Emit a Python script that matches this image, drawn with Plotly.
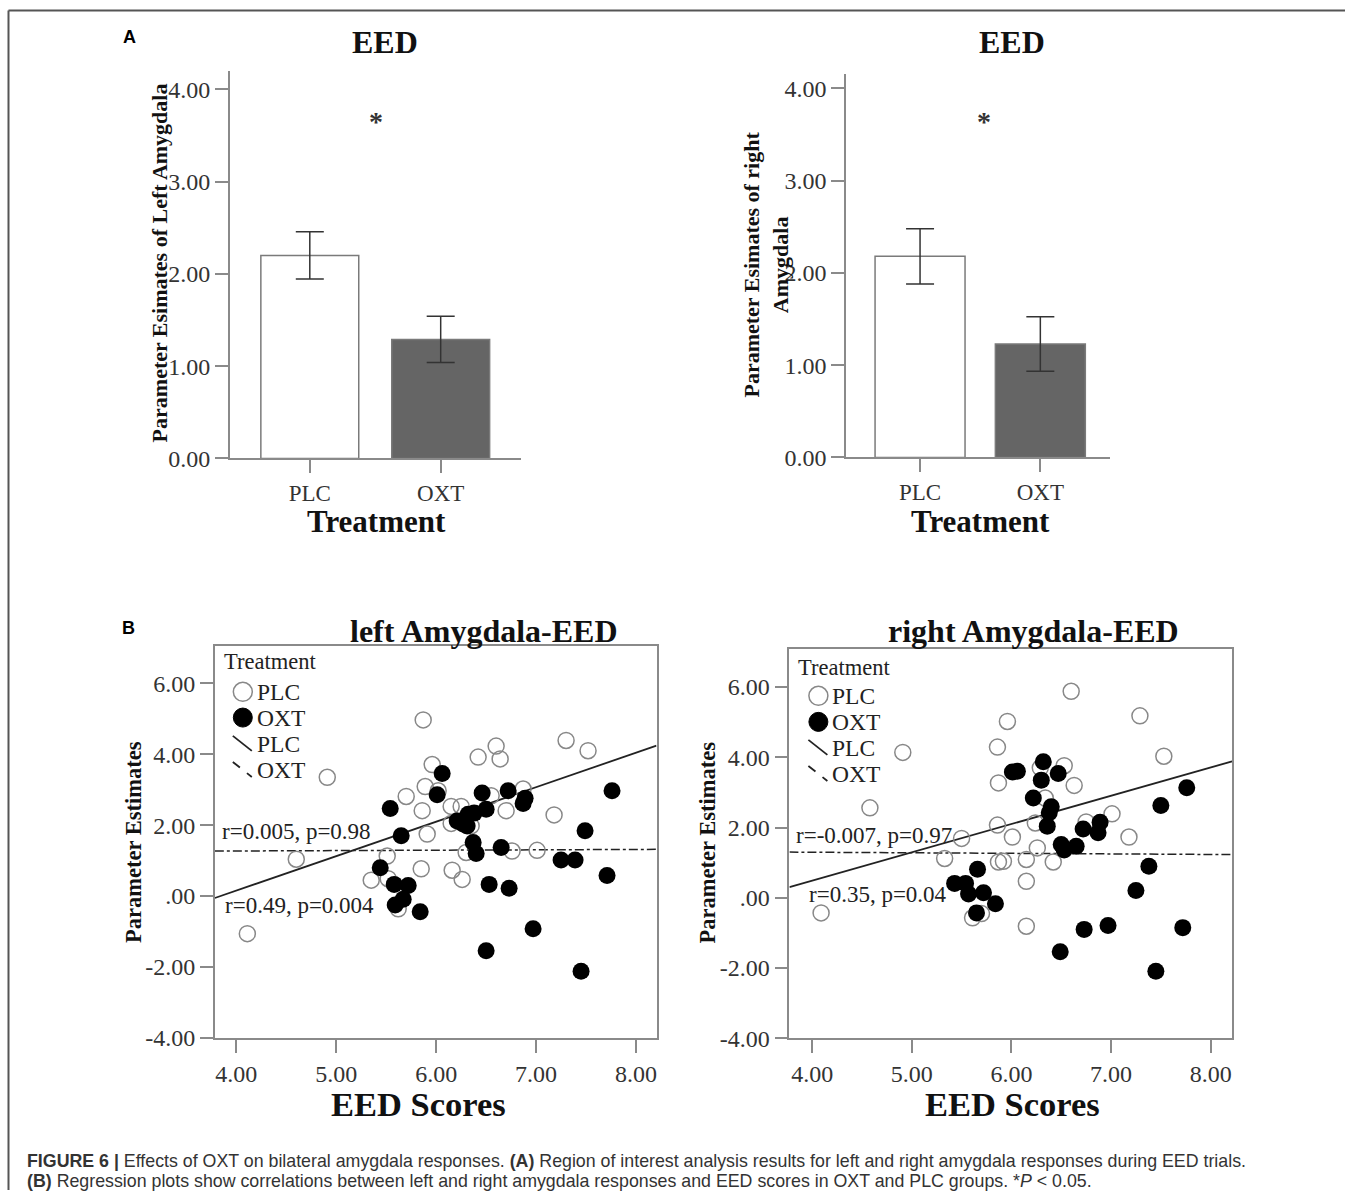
import plotly.graph_objects as go

# Figure fills the 1346x1203 page (body margin removed). The photographed page comes back
# slightly compressed vertically (~0.988), so reference y positions are divided by S.
W, H = 1346, 1203
S = 0.988
def fx(p): return p / W
def fy(p): return 1 - (p / S) / H

SERIF = "Liberation Serif, Times New Roman, serif"
SANS = "Liberation Sans, Arial, sans-serif"

# ---------------- data ----------------
groups = ["PLC", "OXT"]
left_mean = [2.20, 1.29]
left_sem = [0.255, 0.25]
right_mean = [2.18, 1.23]
right_sem = [0.30, 0.295]
bar_tickvals = [0, 1, 2, 3, 4]
bar_ticktext = ["0.00", "1.00", "2.00", "3.00", "4.00"]

sc_xtickvals = [4, 5, 6, 7, 8]
sc_xticktext = ["4.00", "5.00", "6.00", "7.00", "8.00"]
sc_ytickvals = [-4, -2, 0, 2, 4, 6]
sc_yticktext = ["-4.00", "-2.00", ".00", "2.00", "4.00", "6.00"]

left_plc_x = [5.87, 4.91, 4.11, 4.60, 7.30, 7.52, 6.60, 6.64, 6.42, 5.96, 5.89, 6.02, 5.70, 5.86, 6.15, 6.25, 6.15,
              6.35, 6.55, 6.87, 6.70, 7.18, 5.91, 5.51, 5.35, 5.52, 5.85, 6.16, 6.26, 6.30, 6.76, 7.01, 5.62]
left_plc_y = [4.97, 3.35, -1.06, 1.04, 4.39, 4.10, 4.23, 3.87, 3.92, 3.71, 3.09, 2.97, 2.81, 2.41, 2.53, 2.53, 2.05,
              1.98, 2.83, 3.02, 2.41, 2.29, 1.75, 1.13, 0.45, 0.49, 0.77, 0.73, 0.47, 1.23, 1.27, 1.29, -0.36]
left_oxt_x = [6.06, 5.54, 6.01, 6.46, 6.72, 6.87, 6.89, 6.50, 7.76, 5.65, 6.21, 6.32, 6.38, 6.27, 6.31, 7.49, 6.37,
              6.40, 6.65, 5.44, 7.25, 7.39, 7.71, 5.58, 5.72, 6.53, 6.73, 5.67, 5.59, 5.84, 6.97, 6.50, 7.45]
left_oxt_y = [3.46, 2.47, 2.86, 2.91, 2.97, 2.61, 2.76, 2.45, 2.97, 1.70, 2.12, 2.31, 2.34, 2.03, 1.98, 1.84, 1.51,
              1.20, 1.37, 0.80, 1.02, 1.02, 0.58, 0.33, 0.30, 0.33, 0.22, -0.09, -0.25, -0.44, -0.92, -1.54, -2.12]

right_plc_x = [6.60, 7.29, 5.96, 5.86, 4.91, 7.53, 6.53, 6.29, 5.87, 6.63, 4.58, 6.34, 6.24, 5.86, 7.01, 6.75, 7.18,
               5.50, 6.01, 6.26, 5.33, 5.87, 5.92, 6.15, 6.42, 6.15, 4.09, 5.61, 5.70, 6.15]
right_plc_y = [5.88, 5.18, 5.02, 4.29, 4.14, 4.03, 3.76, 3.70, 3.27, 3.20, 2.56, 2.84, 2.13, 2.07, 2.39, 2.16, 1.73,
               1.69, 1.73, 1.42, 1.12, 1.02, 1.04, 1.09, 1.02, 0.47, -0.43, -0.57, -0.45, -0.81]
right_oxt_x = [6.32, 6.01, 6.06, 6.47, 6.30, 6.22, 6.40, 6.38, 6.36, 7.76, 7.50, 6.72, 6.89, 6.87, 6.50, 6.53, 6.65,
               7.38, 5.66, 5.43, 5.54, 5.57, 5.72, 5.84, 5.65, 7.25, 6.73, 6.97, 7.72, 6.49, 7.45]
right_oxt_y = [3.87, 3.58, 3.60, 3.54, 3.35, 2.84, 2.59, 2.42, 2.04, 3.13, 2.63, 1.96, 2.15, 1.85, 1.52, 1.36, 1.47,
               0.90, 0.81, 0.41, 0.41, 0.11, 0.14, -0.17, -0.43, 0.21, -0.90, -0.79, -0.85, -1.54, -2.09]

# regression fits: [intercept, slope]
left_fit_plc = [-3.735, 0.9724]
left_fit_oxt = [1.228, 0.011]
right_fit_plc = [-2.737, 0.806]
right_fit_oxt = [1.36, -0.0158]
left_stats = ["r=0.005, p=0.98", "r=0.49, p=0.004"]
right_stats = ["r=-0.007, p=0.97", "r=0.35, p=0.04"]

# ---------------- figure ----------------
fig = go.Figure()

bar_line = "#7a7a7a"
for mean, sem, xa, ya in [(left_mean, left_sem, "x", "y"), (right_mean, right_sem, "x2", "y2")]:
    fig.add_trace(go.Bar(
        x=groups, y=mean, xaxis=xa, yaxis=ya, width=0.748,
        marker=dict(color=["#ffffff", "#656565"], line=dict(color=bar_line, width=1.5)),
        error_y=dict(type="data", array=sem, color="#333333", thickness=1.5, width=14),
        showlegend=False, hoverinfo="skip"))

xr3 = [3.785, 8.205]
xr4 = [3.772, 8.215]
for (plc_x, plc_y, oxt_x, oxt_y, fp, fo, xr, xa, ya) in [
        (left_plc_x, left_plc_y, left_oxt_x, left_oxt_y, left_fit_plc, left_fit_oxt, xr3, "x3", "y3"),
        (right_plc_x, right_plc_y, right_oxt_x, right_oxt_y, right_fit_plc, right_fit_oxt, xr4, "x4", "y4")]:
    fig.add_trace(go.Scatter(x=xr, y=[fo[0] + fo[1] * v for v in xr], mode="lines", xaxis=xa, yaxis=ya,
                             line=dict(color="#222222", width=1.5, dash="dashdot"), showlegend=False))
    fig.add_trace(go.Scatter(x=xr, y=[fp[0] + fp[1] * v for v in xr], mode="lines", xaxis=xa, yaxis=ya,
                             line=dict(color="#222222", width=1.8), showlegend=False))
    fig.add_trace(go.Scatter(x=plc_x, y=plc_y, mode="markers", xaxis=xa, yaxis=ya,
                             marker=dict(symbol="circle-open", size=16, color="#888888", line=dict(width=1.5)),
                             showlegend=False))
    fig.add_trace(go.Scatter(x=oxt_x, y=oxt_y, mode="markers", xaxis=xa, yaxis=ya,
                             marker=dict(symbol="circle", size=17, color="#000000", line=dict(width=0)),
                             showlegend=False))

numfont = dict(family=SERIF, size=24, color="#333333")
catfont = dict(family=SERIF, size=23, color="#333333")
axline = dict(showline=True, linecolor="#8a8a8a", linewidth=1.5, ticks="outside", ticklen=13,
              tickcolor="#8a8a8a", tickwidth=1.5, showgrid=False, zeroline=False)

fig.update_layout(
    width=W, height=H, margin=dict(l=0, r=0, t=0, b=0),
    paper_bgcolor="white", plot_bgcolor="white", showlegend=False,
    xaxis=dict(domain=[fx(230), fx(521.7)], range=[-0.611, 1.616], anchor="y", type="category",
               tickfont=catfont, **axline),
    yaxis=dict(domain=[fy(457.9), fy(70.7)], range=[0, 4.20], anchor="x",
               tickvals=bar_tickvals, ticktext=bar_ticktext, tickfont=numfont, **axline),
    xaxis2=dict(domain=[fx(846.7), fx(1110.7)], range=[-0.615, 1.578], anchor="y2", type="category",
                tickfont=catfont, **axline),
    yaxis2=dict(domain=[fy(456.9), fy(74.1)], range=[0, 4.154], anchor="x2",
                tickvals=bar_tickvals, ticktext=bar_ticktext, tickfont=numfont, **axline),
    xaxis3=dict(domain=[fx(215), fx(657)], range=xr3, anchor="y3", mirror=True,
                tickvals=sc_xtickvals, ticktext=sc_xticktext, tickfont=numfont, **axline),
    yaxis3=dict(domain=[fy(1037), fy(645)], range=[-4.01, 7.06], anchor="x3", mirror=True,
                tickvals=sc_ytickvals, ticktext=sc_yticktext, tickfont=numfont, **axline),
    xaxis4=dict(domain=[fx(790), fx(1233)], range=xr4, anchor="y4", mirror=True,
                tickvals=sc_xtickvals, ticktext=sc_xticktext, tickfont=numfont, **axline),
    yaxis4=dict(domain=[fy(1037), fy(648)], range=[-4.0, 7.09], anchor="x4", mirror=True,
                tickvals=sc_ytickvals, ticktext=sc_yticktext, tickfont=numfont, **axline),
)

ann = []
def text(x, y, s, size, bold=False, family=SERIF, color="#111111", xanchor="center", angle=0):
    ann.append(dict(x=fx(x), y=fy(y), xref="paper", yref="paper", text=(f"<b>{s}</b>" if bold else s),
                    showarrow=False, xanchor=xanchor, yanchor="middle", textangle=angle,
                    font=dict(family=family, size=size, color=color)))

# panel labels
text(130, 37, "A", 18, bold=True, family=SANS, color="#000000")
text(129, 627, "B", 18, bold=True, family=SANS, color="#000000")

# bar charts
text(385.7, 42, "EED", 32, bold=True)
text(1012.3, 42, "EED", 32, bold=True)
text(376.7, 121, "*", 28, bold=True, color="#333333")
text(985, 121, "*", 28, bold=True, color="#333333")
text(159.5, 262.7, "Parameter Esimates of Left Amygdala", 22, bold=True, angle=-90)
text(767, 263.8, "Parameter Esimates of right<br>Amygdala", 22, bold=True, angle=-90)
text(376.7, 521, "Treatment", 31, bold=True)
text(981.7, 521, "Treatment", 31, bold=True)

# scatter plots
text(484.5, 630, "left Amygdala-EED", 32, bold=True)
text(1034, 630, "right Amygdala-EED", 32, bold=True)
text(133, 841, "Parameter Estimates", 22.5, bold=True, angle=-90)
text(708, 841, "Parameter Estimates", 22.5, bold=True, angle=-90)
text(419, 1103, "EED Scores", 34.5, bold=True)
text(1013, 1103, "EED Scores", 34.5, bold=True)

text(220, 830, left_stats[0], 23, color="#222222", xanchor="left")
text(223, 904, left_stats[1], 23, color="#222222", xanchor="left")
text(795, 834, right_stats[0], 23, color="#222222", xanchor="left")
text(808, 893, right_stats[1], 23, color="#222222", xanchor="left")

# manual legends
shapes = []
for (tx, ty, cx, rows) in [(221.7, 661, 243, [691, 716.7, 743, 769]),
                           (796.7, 666.7, 819, [695, 721, 747, 773])]:
    text(tx, ty, "Treatment", 22.5, color="#222222", xanchor="left")
    for i, lab in enumerate(["PLC", "OXT", "PLC", "OXT"]):
        text(cx + 12, rows[i], lab, 23.5, color="#222222", xanchor="left")
    r = 9.5
    shapes.append(dict(type="circle", xref="paper", yref="paper", x0=fx(cx - r), x1=fx(cx + r),
                       y0=fy(rows[0] + r), y1=fy(rows[0] - r), line=dict(color="#888888", width=1.5)))
    shapes.append(dict(type="circle", xref="paper", yref="paper", x0=fx(cx - r), x1=fx(cx + r),
                       y0=fy(rows[1] + r), y1=fy(rows[1] - r), fillcolor="#000000", line=dict(color="#000000", width=1)))
    shapes.append(dict(type="line", xref="paper", yref="paper", x0=fx(cx - 10), x1=fx(cx + 9),
                       y0=fy(rows[2] - 8), y1=fy(rows[2] + 7), line=dict(color="#222222", width=1.8)))
    shapes.append(dict(type="line", xref="paper", yref="paper", x0=fx(cx - 10), x1=fx(cx + 9),
                       y0=fy(rows[3] - 8), y1=fy(rows[3] + 7), line=dict(color="#222222", width=1.8, dash="dash")))

# frame (top and left rules)
shapes.append(dict(type="line", xref="paper", yref="paper", x0=fx(8.5), x1=1, y0=fy(10.5), y1=fy(10.5),
                   line=dict(color="#555555", width=2)))
shapes.append(dict(type="line", xref="paper", yref="paper", x0=fx(8.5), x1=fx(8.5), y0=fy(10.5), y1=0,
                   line=dict(color="#555555", width=2)))

# caption
text(25, 1160, "<b>FIGURE 6 |</b> Effects of OXT on bilateral amygdala responses. <b>(A)</b> Region of interest "
     "analysis results for left and right amygdala responses during EED trials.", 17.8, family=SANS,
     color="#333333", xanchor="left")
text(25, 1180, "<b>(B)</b> Regression plots show correlations between left and right amygdala responses and EED "
     "scores in OXT and PLC groups. *<i>P</i> &lt; 0.05.", 17.8, family=SANS, color="#333333", xanchor="left")

fig.update_layout(annotations=ann, shapes=shapes)

fig.write_html("out.html", config={"displayModeBar": False},
               post_script="document.body.style.margin='0';document.body.style.overflow='hidden';")
